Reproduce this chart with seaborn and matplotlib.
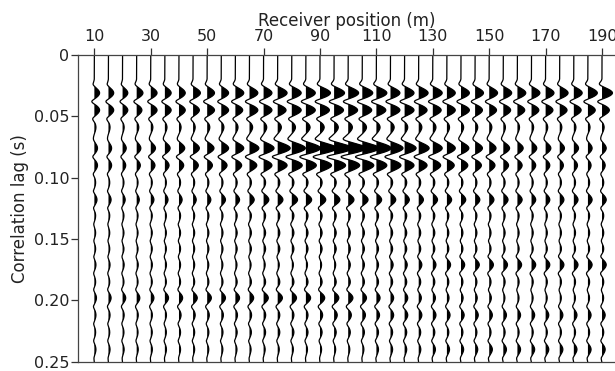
import numpy as np
import pandas as pd
import matplotlib
matplotlib.use("Agg")
import matplotlib.pyplot as plt
import seaborn as sns

# Receiver positions (m), one trace every 5 m
receivers = list(range(10, 195, 5))

# Peak times (s) of the main correlation events
event_times = [0.031, 0.045, 0.059, 0.076, 0.090, 0.118, 0.171, 0.198, 0.212, 0.240]

# Peak amplitudes per receiver for each event (display units)
amp_031 = [5, 5, 5, 6, 6, 6, 6, 7, 7, 7, 8, 8, 8, 9, 9, 9, 10, 10, 10, 10, 10, 9, 9, 9, 9,
           8, 8, 8, 8, 8, 8, 8, 8, 8, 8, 9, 10]
amp_045 = [5, 5, 5, 5, 6, 6, 6, 6, 7, 7, 7, 8, 8, 8, 9, 9, 9, 9, 9, 9, 9, 9, 9, 8, 8,
           8, 8, 7, 7, 7, 7, 7, 7, 7, 7, 7, 7]
amp_059 = [1.5, 1.5, 1.5, 2, 2, 2, 2, 2, 2.5, 2.5, 2.5, 3, 3, 3.5, 3.5, 4, 4, 4, 4, 4, 3.5,
           3.5, 3, 3, 3, 2.5, 2.5, 2.5, 2.5, 2, 2, 2, 2, 2, 2, 2, 2]
amp_076 = [3, 3, 3.5, 4, 4.5, 5, 5.5, 6, 6.5, 7, 8, 9, 10, 12, 13, 14, 16, 17, 17, 16, 14,
           12, 11, 10, 9, 8, 7.5, 7, 6.5, 6, 5.5, 5, 5, 4.5, 4.5, 4, 4]
amp_090 = [3, 3, 3, 3.5, 4, 4, 4.5, 5, 5, 5.5, 6, 7, 8, 9, 10, 10, 11, 11, 11, 11, 10,
           10, 9, 8, 7.5, 7, 6.5, 6, 5.5, 5, 4.5, 4, 4, 3.5, 3.5, 3, 3]
amp_118 = [2.5, 2.5, 2.5, 2.5, 3, 3, 3, 3, 3.5, 4, 4, 4.5, 5, 5, 5.5, 5.5, 5.5, 5.5, 5.5,
           5.5, 5, 5, 4.5, 4.5, 4.5, 4.5, 4.5, 4.5, 4.5, 4.5, 4.5, 4, 4, 4, 4, 4, 4]
amp_171 = [1.5, 1.5, 1.5, 1.5, 1.5, 1.5, 1.5, 1.5, 1.5, 1.5, 1.5, 1.5, 1.5, 1.5, 1.5, 1.5,
           1.5, 1.5, 2, 2, 2, 2.5, 2.5, 3, 3, 3.5, 3.5, 4, 4, 4, 4, 4, 4, 4, 4, 4, 4]
amp_198 = [2, 2.5, 3, 3, 3, 3.5, 3.5, 4, 4, 4, 4, 4, 4.5, 4.5, 4.5, 4.5, 4.5, 4.5, 4.5,
           4, 3.5, 3, 3, 2.5, 2.5, 2, 2, 2, 2, 1.5, 1.5, 1.5, 1.5, 1.5, 1.5, 1.5, 1.5]
amp_212 = [1.5, 1.5, 1.5, 1.5, 1.5, 1.5, 2, 2, 2, 2, 2, 2, 2, 2, 2, 2, 2.5, 3, 3, 3, 3,
           3, 3, 3, 3, 3, 3, 3, 3, 3, 3, 3, 3, 3, 3, 3, 3]
amp_240 = [1.5, 1.5, 1.5, 1.5, 1.5, 1.5, 1.5, 1.5, 1.5, 1.5, 1.5, 1.5, 1.5, 1.5, 1.5,
           1.5, 1.5, 1.5, 1.5, 1.5, 2, 2, 2, 2, 2.5, 2.5, 2.5, 2.5, 3, 3, 3, 3, 3, 3, 3, 3, 3]
event_amps = [amp_031, amp_045, amp_059, amp_076, amp_090, amp_118,
              amp_171, amp_198, amp_212, amp_240]

# Weaker coda arrivals and their per-receiver amplitude
coda_times = [0.104, 0.131, 0.145, 0.158, 0.185, 0.226]
coda_amp = [1.2, 1.2, 1.3, 1.3, 1.4, 1.4, 1.5, 1.5, 1.6, 1.6, 1.7, 1.8, 1.9, 2, 2, 2, 2,
            2, 2, 2, 2, 2, 2, 1.9, 1.9, 1.8, 1.8, 1.7, 1.7, 1.7, 1.6, 1.6, 1.6, 1.6,
            1.6, 1.6, 1.6]

x_ticks = [10, 30, 50, 70, 90, 110, 130, 150, 170, 190]
y_ticks = [0, 0.05, 0.10, 0.15, 0.20, 0.25]
y_ticklabels = ["0", "0.05", "0.10", "0.15", "0.20", "0.25"]

# Wavelet shape: broad positive lobe with two narrow side troughs
lobe_width = 0.0045     # s
trough_offset = 0.007   # s
trough_width = 0.0025   # s
trough_depth = 0.33
gain = 0.37             # metres of offset per amplitude unit
lag = np.arange(0.0, 0.2505, 0.0003)


def wavelet(t, t0, a):
    d = t - t0
    lobe = np.exp(-(d / lobe_width) ** 2)
    trough = np.exp(-((np.abs(d) - trough_offset) / trough_width) ** 2)
    return a * (lobe - trough_depth * trough)


rows = []
traces = []
for i, rx in enumerate(receivers):
    sig = np.zeros_like(lag)
    for t0, amps in zip(event_times, event_amps):
        sig += wavelet(lag, t0, amps[i])
    for t0 in coda_times:
        sig += wavelet(lag, t0, coda_amp[i])
    off = sig * gain
    traces.append(off)
    rows.append(pd.DataFrame({"receiver": rx, "lag": lag, "pos": rx + off}))
df = pd.concat(rows, ignore_index=True)

sns.set_theme(style="ticks")
plt.rcParams["font.family"] = ["DejaVu Sans"]

fig = plt.figure(figsize=(6.15, 3.71), dpi=100)
ax = fig.add_axes([0.1273, 0.025, 0.8727, 0.8270])

for rx, off in zip(receivers, traces):
    ax.fill_betweenx(lag, rx, rx + off, where=off > 0, color="black",
                     linewidth=0, interpolate=True)

sns.lineplot(data=df, x="pos", y="lag", units="receiver", estimator=None,
             sort=False, orient="y", color="black", linewidth=0.9, ax=ax,
             legend=False)

ax.set_xlim(4.3, 194.6)
ax.set_ylim(0.25, 0)
ax.xaxis.tick_top()
ax.xaxis.set_label_position("top")
ax.set_xticks(x_ticks)
ax.set_yticks(y_ticks)
ax.set_yticklabels(y_ticklabels)
ax.set_xlabel("Receiver position (m)", fontsize=12, labelpad=2, color="#222222")
ax.set_ylabel("Correlation lag (s)", fontsize=12, labelpad=3, color="#222222")
ax.tick_params(axis="both", direction="out", length=5, width=0.9,
               colors="#333333", labelcolor="#222222", labelsize=11.5)
ax.tick_params(axis="x", top=True, bottom=False, pad=3)
ax.tick_params(axis="y", pad=1.5)
for side in ["left", "top", "bottom"]:
    ax.spines[side].set_visible(True)
    ax.spines[side].set_color("#444444")
    ax.spines[side].set_linewidth(0.9)
ax.spines["right"].set_visible(False)

fig.savefig("out.png", dpi=100, facecolor="white")
